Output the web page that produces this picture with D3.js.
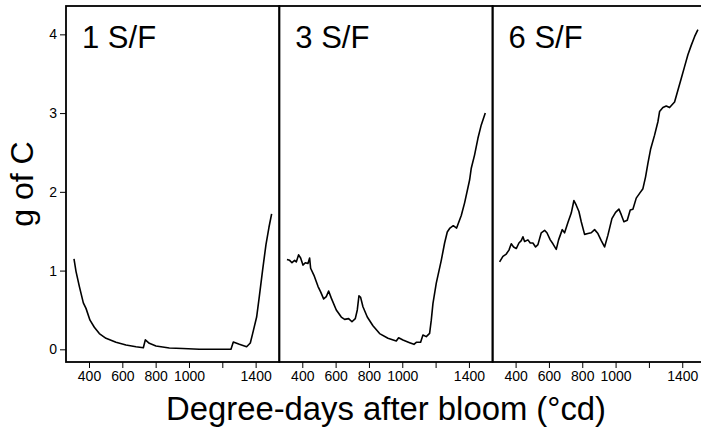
<!DOCTYPE html>
<html>
<head>
<meta charset="utf-8">
<script src="https://cdn.jsdelivr.net/npm/d3@7"></script>
<style>
  html, body { margin: 0; padding: 0; background: #fff; }
  svg { display: block; font-family: "Liberation Sans", Arial, Helvetica, sans-serif; }
</style>
</head>
<body>
<svg id="chart" width="701" height="430"></svg>
<script>
// Carbon reserves (g of C) against thermal time, one panel per seeds-per-fruit class
const panelTitles = ["1 S/F", "3 S/F", "6 S/F"];

const dd1 = [310, 322, 342, 366, 382, 406, 432, 462, 502, 562, 622, 682, 726, 738, 762, 802, 882, 962, 1062, 1162, 1252, 1266, 1302, 1346, 1368, 1382, 1406, 1422, 1442, 1462, 1480, 1496];
const c1  = [1.15, 0.99, 0.80, 0.59, 0.52, 0.37, 0.28, 0.20, 0.14, 0.089, 0.055, 0.033, 0.02, 0.12, 0.076, 0.042, 0.017, 0.01, 0.0, 0.0, 0.0, 0.093, 0.063, 0.033, 0.08, 0.20, 0.41, 0.67, 1.01, 1.33, 1.55, 1.72];

const dd3 = [308, 324, 338, 354, 364, 378, 390, 404, 418, 434, 444, 450, 470, 494, 510, 528, 544, 558, 574, 604, 634, 654, 678, 698, 718, 730, 740, 750, 764, 790, 824, 864, 914, 964, 978, 1004, 1044, 1070, 1084, 1110, 1124, 1144, 1164, 1174, 1184, 1204, 1234, 1254, 1270, 1286, 1306, 1326, 1354, 1374, 1404, 1414, 1434, 1454, 1474, 1498];
const c3  = [1.14, 1.13, 1.10, 1.13, 1.11, 1.20, 1.16, 1.07, 1.10, 1.09, 1.16, 1.03, 0.94, 0.80, 0.73, 0.64, 0.67, 0.74, 0.65, 0.50, 0.41, 0.38, 0.39, 0.35, 0.39, 0.50, 0.68, 0.66, 0.54, 0.41, 0.30, 0.20, 0.14, 0.105, 0.147, 0.118, 0.084, 0.063, 0.089, 0.089, 0.182, 0.161, 0.203, 0.37, 0.58, 0.84, 1.13, 1.35, 1.49, 1.54, 1.57, 1.54, 1.70, 1.86, 2.15, 2.30, 2.47, 2.68, 2.85, 3.00];

const dd6 = [304, 324, 344, 360, 374, 388, 404, 420, 434, 444, 454, 474, 488, 504, 520, 534, 554, 574, 588, 608, 624, 644, 658, 680, 694, 714, 734, 750, 764, 780, 794, 814, 834, 854, 874, 894, 914, 934, 954, 978, 1000, 1020, 1034, 1050, 1070, 1088, 1104, 1124, 1144, 1164, 1180, 1194, 1210, 1234, 1254, 1264, 1284, 1304, 1324, 1354, 1374, 1394, 1414, 1434, 1454, 1474, 1494];
const c6  = [1.11, 1.18, 1.21, 1.26, 1.34, 1.30, 1.28, 1.35, 1.38, 1.43, 1.37, 1.39, 1.35, 1.35, 1.30, 1.33, 1.48, 1.51, 1.48, 1.39, 1.34, 1.27, 1.39, 1.52, 1.48, 1.61, 1.73, 1.89, 1.83, 1.75, 1.62, 1.46, 1.47, 1.48, 1.52, 1.47, 1.38, 1.30, 1.45, 1.66, 1.74, 1.78, 1.71, 1.62, 1.64, 1.77, 1.78, 1.92, 1.98, 2.04, 2.19, 2.36, 2.54, 2.72, 2.89, 3.02, 3.07, 3.09, 3.07, 3.14, 3.29, 3.44, 3.59, 3.74, 3.86, 3.97, 4.06];

const xTicks = [400, 600, 800, 1000, 1200, 1400];
const xTickLabels = ["400", "600", "800", "1000", "", "1400"];
const yTicks = [0, 1, 2, 3, 4];

const series = [
  { title: panelTitles[0], x: dd1, y: c1 },
  { title: panelTitles[1], x: dd3, y: c3 },
  { title: panelTitles[2], x: dd6, y: c6 }
];

const svg = d3.select("#chart");
const plotLeft = 66, plotTop = 6, plotBottom = 362, panelW = 213.3;

const y = d3.scaleLinear().domain([-0.161, 4.36]).range([plotBottom, plotTop]);

series.forEach((s, i) => {
  const x0 = plotLeft + i * panelW;
  const x = d3.scaleLinear().domain([262, 1542]).range([x0, x0 + panelW]);
  const g = svg.append("g");

  // bottom axis with outward ticks
  const ax = d3.axisBottom(x)
    .tickValues(xTicks)
    .tickFormat((d, k) => xTickLabels[k])
    .tickSize(6)
    .tickPadding(3);
  const axG = g.append("g").attr("transform", `translate(0,${plotBottom})`).call(ax);
  axG.select(".domain").remove();
  axG.selectAll(".tick line").attr("stroke", "#000").attr("stroke-width", 1);
  axG.selectAll(".tick text").attr("font-size", 14).attr("fill", "#000")
    .attr("font-family", "Liberation Sans, Arial, sans-serif");

  // curve
  const pts = s.x.map((v, k) => [v, s.y[k]]);
  g.append("path")
    .datum(pts)
    .attr("fill", "none")
    .attr("stroke", "#000")
    .attr("stroke-width", 1.6)
    .attr("stroke-linejoin", "round")
    .attr("d", d3.line().x(d => x(d[0])).y(d => y(d[1])));

  // panel frame
  g.append("rect")
    .attr("x", x0).attr("y", plotTop)
    .attr("width", panelW).attr("height", plotBottom - plotTop)
    .attr("fill", "none").attr("stroke", "#000").attr("stroke-width", 1.8);

  // panel label
  g.append("text")
    .attr("x", x0 + 16).attr("y", 48)
    .attr("font-size", 31)
    .attr("fill", "#000")
    .text(s.title);
});

// left axis on first panel
const ay = d3.axisLeft(y).tickValues(yTicks).tickFormat(d3.format("d")).tickSize(6).tickPadding(3);
const ayG = svg.append("g").attr("transform", `translate(${plotLeft},0)`).call(ay);
ayG.select(".domain").remove();
ayG.selectAll(".tick line").attr("stroke", "#000").attr("stroke-width", 1);
ayG.selectAll(".tick text").attr("font-size", 14).attr("fill", "#000")
  .attr("font-family", "Liberation Sans, Arial, sans-serif");

// axis titles
svg.append("text")
  .attr("x", 386).attr("y", 420)
  .attr("text-anchor", "middle")
  .attr("font-size", 33)
  .attr("textLength", 440)
  .attr("lengthAdjust", "spacingAndGlyphs")
  .attr("fill", "#000")
  .text("Degree-days after bloom (°cd)");

svg.append("text")
  .attr("transform", "translate(33,184) rotate(-90)")
  .attr("text-anchor", "middle")
  .attr("font-size", 32)
  .attr("fill", "#000")
  .text("g of C");
</script>
</body>
</html>
